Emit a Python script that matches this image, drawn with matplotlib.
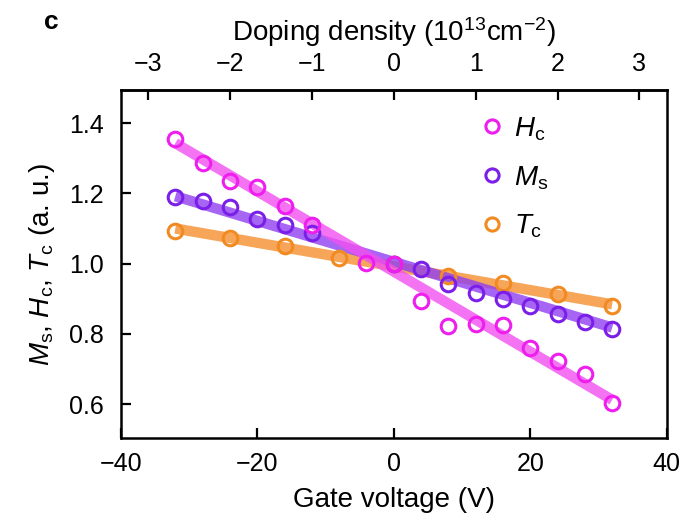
import numpy as np
import matplotlib
matplotlib.use("Agg")
import matplotlib.pyplot as plt
from matplotlib.lines import Line2D

plt.rcParams['font.family'] = ['Liberation Sans', 'DejaVu Sans']
plt.rcParams['mathtext.fontset'] = 'custom'
plt.rcParams['mathtext.rm'] = 'Liberation Sans'
plt.rcParams['mathtext.it'] = 'Liberation Sans:italic'
plt.rcParams['mathtext.bf'] = 'Liberation Sans:bold'

# Data (gate voltage in V, normalized values)
hc_v = [-32, -28, -24, -20, -16, -12, -4, 0, 4, 8, 12, 16, 20, 24, 28, 32]
hc_y = [1.354, 1.286, 1.234, 1.217, 1.163, 1.111, 1.003, 1.0, 0.894, 0.823, 0.829, 0.826, 0.76, 0.723, 0.686, 0.603]
ms_v = [-32, -28, -24, -20, -16, -12, 0, 4, 8, 12, 16, 20, 24, 28, 32]
ms_y = [1.191, 1.177, 1.16, 1.126, 1.111, 1.086, 1.0, 0.986, 0.943, 0.917, 0.90, 0.88, 0.857, 0.834, 0.814]
tc_v = [-32, -24, -16, -8, 0, 8, 16, 24, 32]
tc_y = [1.094, 1.074, 1.049, 1.017, 1.0, 0.966, 0.945, 0.914, 0.88]

# Linear fit lines (endpoints at -32 V and 32 V)
fit_v = [-32, 32]
hc_fit = [1.343, 0.612]
ms_fit = [1.192, 0.818]
tc_fit = [1.100, 0.884]

c_hc = '#EE1EEE'
c_ms = '#7B1FE8'
c_tc = '#F28A22'
l_hc = '#F050F0'
l_ms = '#9040F0'
l_tc = '#F59030'

fig = plt.figure(figsize=(6.86, 5.21), dpi=100)
ax = fig.add_axes([0.176, 0.159, 0.796, 0.668])

for fv, fy, lc in [(fit_v, tc_fit, l_tc), (fit_v, ms_fit, l_ms), (fit_v, hc_fit, l_hc)]:
    ax.plot(fv, fy, color=lc, lw=7.5, alpha=0.8, solid_capstyle='butt', zorder=2)

for v, y, c in [(tc_v, tc_y, c_tc), (ms_v, ms_y, c_ms), (hc_v, hc_y, c_hc)]:
    ax.plot(v, y, 'o', mfc='none', mec=c, ms=10.5, mew=2.2, zorder=3)

ax.set_xlim(-40, 40)
ax.set_ylim(0.503, 1.494)
ax.set_xticks([-40, -20, 0, 20, 40])
ax.set_xticklabels(['\u221240', '\u221220', '0', '20', '40'])
ax.set_yticks([0.6, 0.8, 1.0, 1.2, 1.4])
ax.set_yticklabels(['0.6', '0.8', '1.0', '1.2', '1.4'])
ax.tick_params(direction='in', length=7, width=1.6, labelsize=18)
ax.tick_params(axis='x', pad=10)
ax.tick_params(axis='y', pad=12)
for s in ax.spines.values():
    s.set_linewidth(1.8)

ax.set_xlabel('Gate voltage (V)', fontsize=20, labelpad=8)
ax.set_ylabel(r'$M_\mathrm{s}$, $H_\mathrm{c}$, $T_\mathrm{c}$ (a. u.)', fontsize=20, labelpad=9)

top = ax.secondary_xaxis('top', functions=(lambda v: v / 12.0, lambda d: d * 12.0))
top.set_xticks([-3, -2, -1, 0, 1, 2, 3])
top.set_xticklabels(['\u22123', '\u22122', '\u22121', '0', '1', '2', '3'])
top.tick_params(direction='in', length=7, width=1.6, labelsize=18, pad=10)
top.spines['top'].set_linewidth(1.8)
top.set_xlabel(r'Doping density (10$^{13}$cm$^{-2}$)', fontsize=20, labelpad=8)

handles = [Line2D([], [], ls='none', marker='o', mfc='none', mec=c_hc, ms=9.5, mew=2.2),
           Line2D([], [], ls='none', marker='o', mfc='none', mec=c_ms, ms=9.5, mew=2.2),
           Line2D([], [], ls='none', marker='o', mfc='none', mec=c_tc, ms=9.5, mew=2.2)]
labels = [r'$H_\mathrm{c}$', r'$M_\mathrm{s}$', r'$T_\mathrm{c}$']
ax.legend(handles, labels, loc='upper left', bbox_to_anchor=(0.608, 1.0), frameon=False,
          fontsize=20, handletextpad=0.3, labelspacing=0.77, handlelength=1.0)

fig.text(0.064, 0.945, 'c', fontsize=19, fontweight='bold')

fig.savefig('out.png', dpi=100)
